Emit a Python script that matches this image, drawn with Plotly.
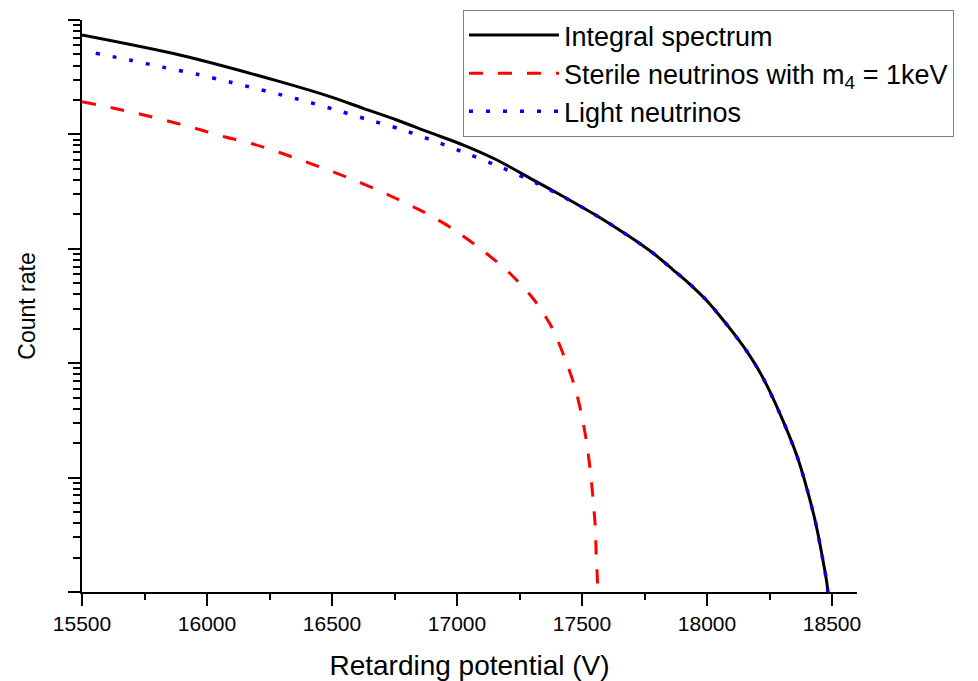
import plotly.graph_objects as go

# ---------------- data ----------------
integral_x = [15500, 15891, 16292, 16492, 16625, 16759, 16893, 17026, 17160, 17293,
              17427, 17520, 17587, 17654, 17721, 17794, 17861, 17921, 17994, 18054,
              18107, 18154, 18200, 18241, 18308, 18361, 18401, 18435, 18461, 18482, 18486]
integral_y = [73960, 49430, 28910, 21380, 16900, 13370, 10350, 8072, 5970, 4130,
              2851, 2183, 1786, 1439, 1153, 883, 665, 515, 362, 255,
              182, 132, 92, 63, 29.9, 15.2, 7.80, 3.98, 2.04, 1.08, 0.5]

sterile_x = [15500, 15623, 15735, 15847, 15958, 16073, 16185, 16299, 16412, 16525,
             16639, 16752, 16866, 16980, 17100, 17206, 17306, 17378, 17429, 17471,
             17497, 17517, 17533, 17544, 17553, 17557, 17563, 17565]
sterile_y = [19320, 17020, 15000, 13030, 11220, 9480, 8240, 6840, 5585, 4520,
             3590, 2780, 2100, 1510, 977, 627, 364, 208, 114, 62.4,
             36.5, 21.3, 11.6, 6.59, 3.72, 2.04, 1.11, 0.5]

light_x = [15555, 15691, 15824, 15961, 16098, 16365, 16503, 16639, 16775, 16911,
           17044, 17180, 17318, 17453, 17520, 17587, 17654, 17721, 17794, 17861,
           17921, 17994, 18054, 18107, 18154, 18200, 18241, 18308, 18361, 18401, 18435,
           18461, 18482, 18486]
light_y = [51170, 44670, 38640, 33500, 28440, 20280, 16670, 13550, 11090, 8710,
           6745, 5117, 3741, 2640, 2183, 1786, 1439, 1153, 883, 665,
           515, 362, 255, 182, 132, 92, 63, 29.9, 15.2, 7.80, 3.98,
           2.04, 1.08, 0.5]

series_names = ["Integral spectrum",
                "Sterile neutrinos with m<sub>4</sub> = 1keV",
                "Light neutrinos"]

x_tick_vals = [15500, 16000, 16500, 17000, 17500, 18000, 18500]
x_tick_text = ["15500", "16000", "16500", "17000", "17500", "18000", "18500"]
x_title = "Retarding potential (V)"
y_title = "Count rate"

FONT = "Arial, 'Liberation Sans', sans-serif"

fig = go.Figure()
fig.add_trace(go.Scatter(x=integral_x, y=integral_y, mode="lines", name=series_names[0],
                         line=dict(color="black", width=3, shape="spline", smoothing=0.8)))
fig.add_trace(go.Scatter(x=sterile_x, y=sterile_y, mode="lines", name=series_names[1],
                         line=dict(color="#ff0000", width=3, dash="14px,15px",
                                   shape="spline", smoothing=0.8)))
fig.add_trace(go.Scatter(x=light_x, y=light_y, mode="lines", name=series_names[2],
                         line=dict(color="#0000ff", width=3.5, dash="4px,13px",
                                   shape="spline", smoothing=0.8)))

minor_y = [k * 10 ** e for e in range(0, 5) for k in range(2, 10)]

# page body adds an 8px offset; size/margins compensate so the plot area
# lands at x 82-857, y 20-592 in the window
fig.update_layout(
    width=970, height=673,
    margin=dict(l=74, r=121, t=12, b=89, autoexpand=False),
    paper_bgcolor="white", plot_bgcolor="white",
    font=dict(family=FONT, color="black"),
    showlegend=True,
    legend=dict(x=0.4916, y=1.0175, xanchor="left", yanchor="top",
                bgcolor="white", bordercolor="#808080", borderwidth=1,
                font=dict(size=27, family=FONT, color="black"),
                itemwidth=90, tracegroupgap=0),
    xaxis=dict(range=[15500, 18600], showgrid=False, zeroline=False, automargin=False,
               showline=True, linecolor="black", linewidth=2,
               tickmode="array", tickvals=x_tick_vals, ticktext=x_tick_text,
               ticks="outside", ticklen=12, tickwidth=1.5, tickcolor="black",
               tickfont=dict(size=21, family=FONT, color="black"),
               minor=dict(dtick=250, tick0=15500, ticks="outside", ticklen=6,
                          tickwidth=1.5, tickcolor="black", showgrid=False),
               title=dict(text=x_title, font=dict(size=28, family=FONT, color="black"),
                          standoff=22)),
    yaxis=dict(type="log", range=[0, 5], showgrid=False, zeroline=False, automargin=False,
               showline=True, linecolor="black", linewidth=2,
               tickmode="linear", tick0=0, dtick=1, showticklabels=False,
               ticks="outside", ticklen=12, tickwidth=1.5, tickcolor="black",
               minor=dict(tickvals=minor_y, ticks="outside", ticklen=7,
                          tickwidth=1.5, tickcolor="black", showgrid=False),
               title=dict(text=y_title, font=dict(size=23, family=FONT, color="black"),
                          standoff=26)),
)

fig.write_html("out.html")
